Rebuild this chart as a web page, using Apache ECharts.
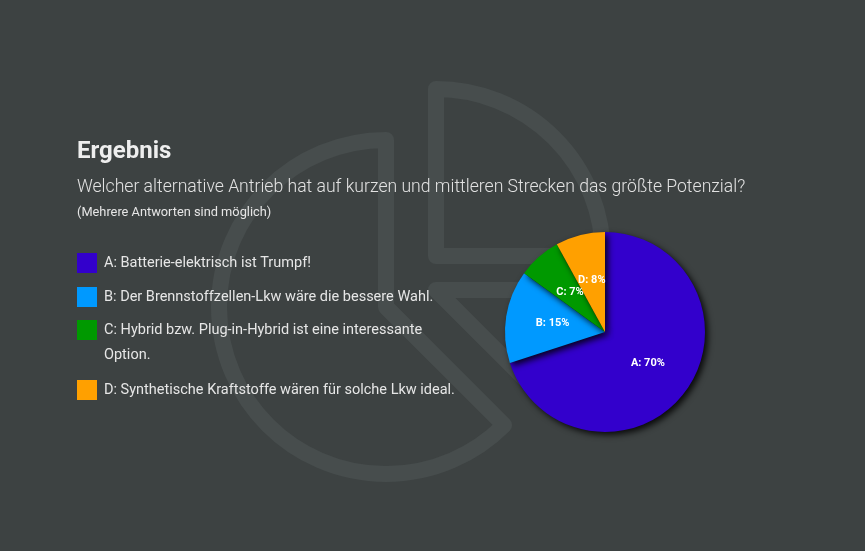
<!DOCTYPE html>
<html>
<head>
<meta charset="utf-8">
<script src="https://cdn.jsdelivr.net/npm/echarts@6/dist/echarts.min.js"></script>
<style>
  html, body { margin: 0; padding: 0; background: #3d4242; }
  #chart { width: 865px; height: 551px; }
</style>
</head>
<body>
<div id="chart"></div>
<script>
// survey answers
var letters = ['A', 'B', 'C', 'D'];
var answers = [
  'Batterie-elektrisch ist Trumpf!',
  'Der Brennstoffzellen-Lkw wäre die bessere Wahl.',
  'Hybrid bzw. Plug-in-Hybrid ist eine interessante Option.',
  'Synthetische Kraftstoffe wären für solche Lkw ideal.'
];
var shares = [70, 15, 7, 8];
var colors = ['#3300cc', '#0099ff', '#009900', '#ffa000'];

var names = letters.map(function (l, i) { return l + ': ' + answers[i]; });
var pieData = names.map(function (n, i) {
  return { name: n, value: shares[i] };
});

var font = 'Roboto, "Noto Sans", sans-serif';
var legendTop = [253, 287, 292.5, 380];

// one legend box per answer so the wrapped one lines up like the original
var legends = names.map(function (n, i) {
  var wrap = i === 2;
  return {
    data: [n],
    orient: 'vertical',
    left: 77,
    top: legendTop[i],
    padding: 0,
    icon: 'rect',
    itemWidth: 20,
    itemHeight: 20,
    selectedMode: false,
    // empty first line keeps the icon level with the first text line
    formatter: wrap ? function (name) { return '\n' + name.replace(/ (Option\.)$/, '\n$1'); } : '{name}',
    textStyle: {
      color: '#e6e6e6',
      fontSize: 14.5,
      fontFamily: font,
      lineHeight: wrap ? 25 : 20,
      padding: [0, 0, 0, 2]
    }
  };
});

// faint pie icon behind everything
var markStyle = { fill: 'none', stroke: '#474d4d', lineWidth: 16, lineJoin: 'round' };
var watermark = [
  { type: 'sector', silent: true, z: -10,
    shape: { cx: 386, cy: 307, r0: 0, r: 167, startAngle: Math.PI / 4, endAngle: Math.PI * 1.5, clockwise: true },
    style: markStyle },
  { type: 'sector', silent: true, z: -10,
    shape: { cx: 436, cy: 256, r0: 0, r: 167, startAngle: -Math.PI / 2, endAngle: 0, clockwise: true },
    style: markStyle },
  { type: 'sector', silent: true, z: -10,
    shape: { cx: 436, cy: 290, r0: 0, r: 167, startAngle: 0, endAngle: Math.PI / 4, clockwise: true },
    style: markStyle }
];

var chart = echarts.init(document.getElementById('chart'));

chart.setOption({
  backgroundColor: '#3d4242',
  color: colors,
  animation: false,
  graphic: watermark,
  title: [{
    text: 'Ergebnis',
    left: 77, top: 140, padding: 0,
    textStyle: { color: '#eeeeee', fontSize: 24, fontWeight: 'bold', fontFamily: font }
  }, {
    text: 'Welcher alternative Antrieb hat auf kurzen und mittleren Strecken das größte Potenzial?',
    left: 77, top: 179, padding: 0,
    textStyle: { color: '#e2e2e2', fontSize: 17.6, fontWeight: 300, fontFamily: font }
  }, {
    text: '(Mehrere Antworten sind möglich)',
    left: 77, top: 206, padding: 0,
    textStyle: { color: '#e6e6e6', fontSize: 12.8, fontWeight: 'normal', fontFamily: font }
  }],
  legend: legends,
  series: [{
    type: 'pie',
    center: [605, 332],
    radius: 100,
    startAngle: 90,
    clockwise: true,
    emphasis: { scale: false },
    itemStyle: {
      shadowBlur: 6,
      shadowOffsetX: 3,
      shadowOffsetY: 3,
      shadowColor: 'rgba(0, 0, 0, 0.85)'
    },
    labelLayout: { hideOverlap: false },
    label: {
      position: 'inside',
      color: '#ffffff',
      fontSize: 11,
      fontWeight: 'bold',
      fontFamily: font,
      formatter: function (p) {
        return letters[p.dataIndex] + ': ' + p.value + '%';
      }
    },
    labelLine: { show: false },
    data: pieData
  }]
});
</script>
</body>
</html>
